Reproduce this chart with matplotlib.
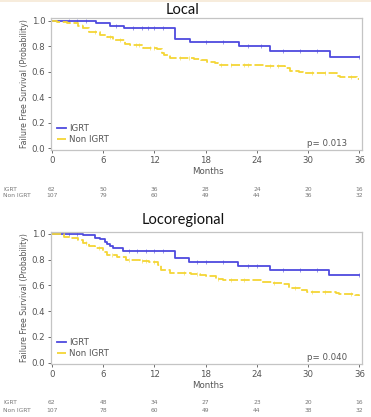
import numpy as np
import matplotlib
matplotlib.use("Agg")
import matplotlib.pyplot as plt
from matplotlib.transforms import blended_transform_factory

# ---------------- data ----------------
titles = ["Local", "Locoregional"]
p_values = ["p= 0.013", "p= 0.040"]
groups = ["IGRT", "Non IGRT"]
risk_months = [0, 6, 12, 18, 24, 30, 36]

local_igrt_t = [0, 5.15, 6.8, 8.4, 14.4, 16.2, 21.95, 25.5, 32.5, 36]
local_igrt_s = [1.0, 0.98, 0.96, 0.94, 0.86, 0.83, 0.80, 0.76, 0.72, 0.72]
local_igrt_cens = [2, 3, 4, 7.5, 9.5, 10.5, 11.2, 12, 13, 18, 20, 23, 24.5, 27, 29, 31, 36]

local_non_t = [0, 0.6, 1.75, 3.1, 3.7, 4.3, 5.65, 6.4, 7.2, 8.6, 9.2, 10.7, 12.3, 12.9,
               13.1, 13.8, 16.6, 17.4, 18.1, 19.1, 19.5, 24.8, 27.3, 27.9, 28.9, 29.4,
               33.35, 33.7, 35.7, 36]
local_non_s = [1.0, 0.99, 0.98, 0.96, 0.94, 0.91, 0.89, 0.87, 0.85, 0.82, 0.81, 0.79, 0.78,
               0.75, 0.73, 0.71, 0.70, 0.69, 0.68, 0.67, 0.65, 0.645, 0.63, 0.61, 0.60, 0.59,
               0.57, 0.56, 0.54, 0.54]
local_non_cens = [3.5, 5, 6.8, 8, 9.8, 10.2, 11.5, 12, 15, 16, 19.8, 21, 22.5, 23, 25.5,
                  26.5, 30.5, 32, 35]

loco_igrt_t = [0, 3.7, 5.0, 5.6, 6.2, 6.4, 6.8, 7.2, 8.3, 14.4, 16.1, 21.8, 25.5, 32.4, 36]
loco_igrt_s = [1.0, 0.99, 0.97, 0.96, 0.94, 0.92, 0.91, 0.89, 0.87, 0.81, 0.78, 0.75, 0.72,
               0.68, 0.68]
loco_igrt_cens = [2, 3, 9, 10, 11, 12, 13, 17, 18, 20, 23, 24, 27, 29, 31, 36]

loco_non_t = [0, 1.4, 2.1, 3.1, 3.7, 4.3, 5.0, 6.0, 6.4, 7.6, 8.7, 10.3, 11.4, 12.4, 12.8,
              13.8, 16.3, 17.3, 18.0, 19.2, 20.0, 24.6, 25.8, 27.0, 27.7, 29.1, 29.9, 33.2,
              33.6, 35.5, 36]
loco_non_s = [1.0, 0.98, 0.97, 0.95, 0.93, 0.91, 0.89, 0.86, 0.84, 0.82, 0.80, 0.79, 0.78,
              0.76, 0.72, 0.70, 0.69, 0.68, 0.67, 0.65, 0.64, 0.63, 0.62, 0.61, 0.58, 0.565,
              0.55, 0.545, 0.535, 0.525, 0.515]
loco_non_cens = [4, 5.5, 7, 9, 10.5, 11, 12, 15.5, 17, 19.5, 21, 22.5, 26, 28.5, 30.5,
                 32, 35]

local_risk_igrt = [62, 50, 36, 28, 24, 20, 16]
local_risk_non = [107, 79, 60, 49, 44, 36, 32]
loco_risk_igrt = [62, 48, 34, 27, 23, 20, 16]
loco_risk_non = [107, 78, 60, 49, 44, 38, 32]

# ---------------- style ----------------
BLUE = "#4e4ade"
YELLOW = "#f4d636"
GRAY = "#555555"
FRAME = "#c4c4c4"

fig = plt.figure(figsize=(3.71, 4.17), dpi=100)
fig.patch.set_facecolor("white")
fig.add_artist(plt.Rectangle((0, 1 - 2 / 417), 1, 2 / 417, transform=fig.transFigure,
                             color="#f7ecdc", lw=0))

panels = [
    dict(bottom=1 - 150 / 417, title_y=1 - 10 / 417, ylim=(-0.013, 1.022),
         igrt=(local_igrt_t, local_igrt_s, local_igrt_cens),
         non=(local_non_t, local_non_s, local_non_cens),
         risk=(local_risk_igrt, local_risk_non), risk_y=(1 - 189 / 417, 1 - 196 / 417),
         months_y=1 - 172 / 417),
    dict(bottom=1 - 364 / 417, title_y=1 - 220 / 417, ylim=(-0.01, 1.015),
         igrt=(loco_igrt_t, loco_igrt_s, loco_igrt_cens),
         non=(loco_non_t, loco_non_s, loco_non_cens),
         risk=(loco_risk_igrt, loco_risk_non), risk_y=(1 - 402 / 417, 1 - 410 / 417),
         months_y=1 - 386 / 417),
]


def step_value(t, s, x):
    idx = np.searchsorted(np.asarray(t), x, side="right") - 1
    return np.asarray(s)[np.clip(idx, 0, len(s) - 1)]


for i, p in enumerate(panels):
    ax = fig.add_axes([51 / 371, p["bottom"], 311 / 371, 132 / 417])
    t, s, c = p["igrt"]
    ax.step(t, s, where="post", color=BLUE, lw=1.3, label=groups[0])
    ax.plot(c, step_value(t, s, c), ls="none", marker="|", ms=2.2, mew=0.5, color=BLUE,
            alpha=0.8)
    t, s, c = p["non"]
    ax.step(t, s, where="post", color=YELLOW, lw=1.3, ls=(0, (5, 1.5)), label=groups[1])
    ax.plot(c, step_value(t, s, c), ls="none", marker="|", ms=2.2, mew=0.5, color=YELLOW,
            alpha=0.8)

    ax.set_xlim(-0.1, 36.3)
    ax.set_ylim(*p["ylim"])
    ax.set_xticks(risk_months)
    ax.set_yticks([0.0, 0.2, 0.4, 0.6, 0.8, 1.0])
    ax.set_yticklabels(["0.0", "0.2", "0.4", "0.6", "0.8", "1.0"])
    ax.tick_params(labelsize=6.2, colors=GRAY, length=2, width=0.6, pad=2)
    for sp in ax.spines.values():
        sp.set_color(FRAME)
        sp.set_linewidth(0.9)
    ax.set_ylabel("Failure Free Survival (Probability)", fontsize=5.6, color=GRAY, labelpad=2)

    ax.text(34.6, 0.04, p_values[i], fontsize=6.2, color=GRAY, ha="right", va="center")
    leg = ax.legend(loc="lower left", bbox_to_anchor=(0.0, 0.0), frameon=False,
                    handlelength=1.1, fontsize=6.2, labelspacing=0.25, handletextpad=0.3,
                    borderaxespad=0.25)
    for txt in leg.get_texts():
        txt.set_color(GRAY)

    fig.text(0.493, p["title_y"], titles[i], fontsize=10.5, ha="center", va="center",
             color="#111111", family="Lato")
    fig.text(0.56, p["months_y"], "Months", fontsize=6.2, ha="center", va="center",
             color=GRAY)

    tr = blended_transform_factory(ax.transData, fig.transFigure)
    for row, (vals, yy) in enumerate(zip(p["risk"], p["risk_y"])):
        fig.text(3 / 371, yy, groups[row], fontsize=4.3, color="#777777", va="center",
                 ha="left")
        for m, v in zip(risk_months, vals):
            ax.text(m, yy, str(v), transform=tr, fontsize=4.3, color="#777777",
                    ha="center", va="center", clip_on=False)

fig.savefig("out.png", dpi=100)
